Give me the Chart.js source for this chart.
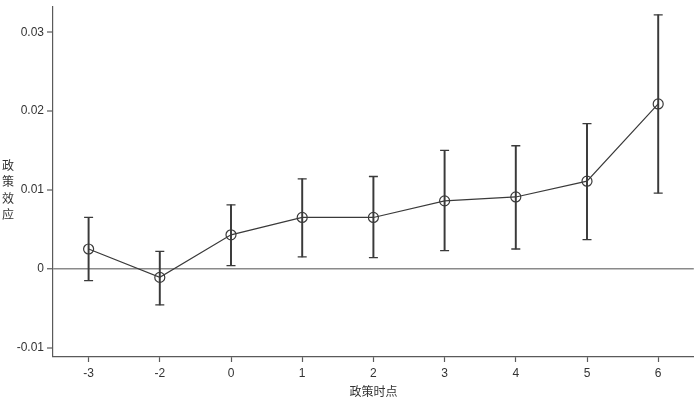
<!DOCTYPE html>
<html lang="zh">
<head>
    <meta charset="UTF-8">
    <title>政策效应</title>
    <script src="https://cdn.jsdelivr.net/npm/chart.js"></script>
    <style>
        body {
            margin: 0;
            background: #fff;
        }
        #wrap {
            width: 700px;
            height: 399px;
        }
    </style>
</head>
<body>
    <div id="wrap"><canvas id="effectChart"></canvas></div>

    <script>
        // Event-study estimates
        const periods = ["-3", "-2", "0", "1", "2", "3", "4", "5", "6"];
        const estimates = [0.0025, -0.0011, 0.0043, 0.0065, 0.0065, 0.0086, 0.0091, 0.0111, 0.0209];
        const lowerCI = [-0.0015, -0.0046, 0.0004, 0.0015, 0.0014, 0.0023, 0.0025, 0.0037, 0.0096];
        const upperCI = [0.0065, 0.0022, 0.0081, 0.0114, 0.0117, 0.0150, 0.0156, 0.0184, 0.0322];
        const yTicks = [-0.01, 0, 0.01, 0.02, 0.03];
        const yLabel = ["政", "策", "效", "应"];
        const xLabel = "政策时点";

        const lineColor = "#3a3a3a";
        const axisColor = "#5a5a5a";
        const textColor = "#333333";
        const labelFont = { family: "'Liberation Sans', Arial, sans-serif", size: 12 };
        const cjkFont = "12px 'Noto Sans CJK SC', sans-serif";

        // vertical stacked y-axis title
        const stackedTitle = {
            id: "stackedTitle",
            afterDraw(chart) {
                const ctx = chart.ctx;
                ctx.save();
                ctx.font = cjkFont;
                ctx.fillStyle = textColor;
                ctx.textAlign = "center";
                ctx.textBaseline = "middle";
                yLabel.forEach((ch, i) => ctx.fillText(ch, 8, 165 + i * 16.5));
                ctx.restore();
            }
        };

        const ctx = document.getElementById("effectChart").getContext("2d");
        new Chart(ctx, {
            type: "bar",
            data: {
                labels: periods,
                datasets: [
                    {
                        type: "line",
                        data: estimates,
                        borderColor: lineColor,
                        borderWidth: 1.2,
                        pointStyle: "circle",
                        pointRadius: 5,
                        pointBorderWidth: 1.2,
                        pointBorderColor: lineColor,
                        pointBackgroundColor: "rgba(0,0,0,0)",
                        tension: 0,
                        order: 0
                    },
                    {
                        type: "line",
                        data: upperCI,
                        showLine: false,
                        pointStyle: "line",
                        pointRadius: 4.5,
                        pointBorderWidth: 1.3,
                        pointBorderColor: lineColor,
                        order: 1
                    },
                    {
                        type: "line",
                        data: lowerCI,
                        showLine: false,
                        pointStyle: "line",
                        pointRadius: 4.5,
                        pointBorderWidth: 1.3,
                        pointBorderColor: lineColor,
                        order: 1
                    },
                    {
                        data: lowerCI.map((lo, i) => [lo, upperCI[i]]),
                        backgroundColor: lineColor,
                        barThickness: 1.3,
                        grouped: false,
                        order: 2
                    }
                ]
            },
            options: {
                responsive: true,
                maintainAspectRatio: false,
                animation: false,
                layout: { padding: { top: 1, right: 3, left: 0, bottom: 0 } },
                plugins: {
                    legend: { display: false },
                    tooltip: { enabled: false }
                },
                scales: {
                    x: {
                        offset: true,
                        afterFit: (scale) => { scale.height = 42; },
                        border: { color: axisColor, width: 1.2 },
                        grid: {
                            offset: false,
                            drawOnChartArea: false,
                            drawTicks: true,
                            tickLength: 5,
                            tickColor: axisColor,
                            tickWidth: 1.2
                        },
                        ticks: { color: textColor, font: labelFont, padding: 4 },
                        title: {
                            display: true,
                            text: xLabel,
                            color: textColor,
                            font: { family: "'Noto Sans CJK SC', sans-serif", size: 12 },
                            padding: { top: 0, bottom: 0 }
                        }
                    },
                    y: {
                        min: -0.0112,
                        max: 0.0333,
                        afterFit: (scale) => {
                            scale.width = 53;
                            scale.paddingTop = 0;
                            scale.paddingBottom = 0;
                        },
                        afterBuildTicks: (scale) => {
                            scale.ticks = yTicks.map(v => ({ value: v }));
                        },
                        border: { color: axisColor, width: 1.2 },
                        grid: {
                            drawTicks: true,
                            tickLength: 6,
                            tickColor: axisColor,
                            tickWidth: 1.2,
                            color: (c) => (c.tick && c.tick.value === 0 ? "#8a8a8a" : "rgba(0,0,0,0)"),
                            lineWidth: (c) => (c.tick && c.tick.value === 0 ? 1.5 : 0)
                        },
                        ticks: {
                            color: textColor,
                            font: labelFont,
                            padding: 3,
                            callback: (v) => (v === 0 ? "0" : v.toFixed(2))
                        }
                    }
                }
            },
            plugins: [stackedTitle]
        });
    </script>
</body>
</html>
